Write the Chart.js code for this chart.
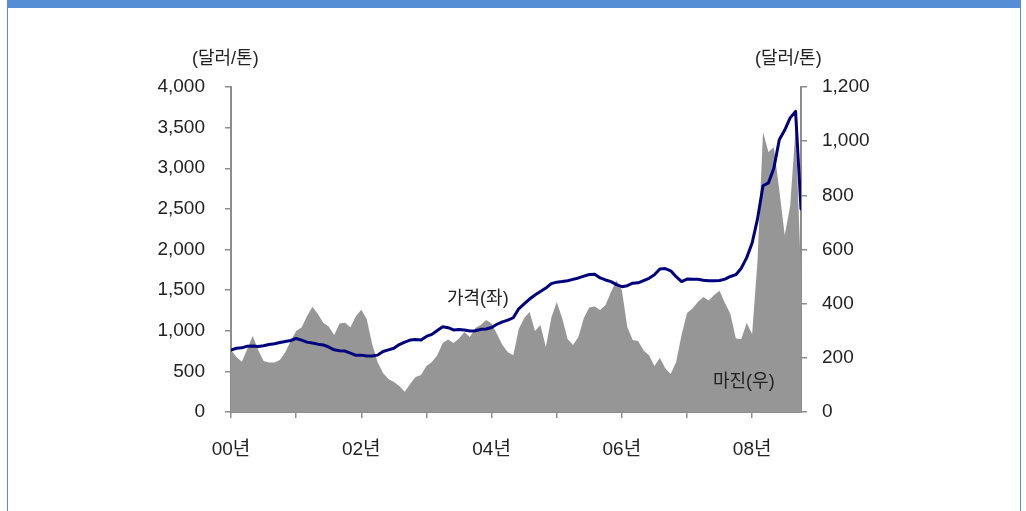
<!DOCTYPE html>
<html>
<head>
<meta charset="utf-8">
<script src="https://cdn.jsdelivr.net/npm/chart.js@4/dist/chart.umd.min.js"></script>
<style>
html,body{margin:0;padding:0;background:#fff;width:1026px;height:511px;overflow:hidden;}
#frame{position:absolute;left:7px;top:0;width:1014px;height:530px;border-top:8px solid #558ed5;border-left:1.5px solid #558ed5;border-right:1.5px solid #558ed5;box-sizing:border-box;}
#c{position:absolute;left:0;top:0;}
.lbl{position:absolute;font-family:'Liberation Sans','Noto Sans CJK KR',sans-serif;font-size:18px;color:#222;white-space:nowrap;line-height:1;transform:translateY(-50%);}
</style>
</head>
<body>
<div id="frame"></div>
<canvas id="c" width="1026" height="511"></canvas>
<div class="lbl" style="left:192px;top:58px;">(달러/톤)</div>
<div class="lbl" style="left:755px;top:58px;">(달러/톤)</div>
<div class="lbl" style="left:447px;top:298px;">가격(좌)</div>
<div class="lbl" style="left:713px;top:381px;">마진(우)</div>
<script>
// Monthly series, Jan 2000 .. Oct 2008
const priceValues = [763,784,790,810,812,805,815,830,840,855,868,880,
905,885,860,850,835,825,800,765,755,750,725,698,
700,690,690,700,745,765,785,830,860,885,893,886,
930,955,1004,1048,1038,1010,1015,1010,997,1000,1017,1022,
1040,1080,1110,1130,1160,1270,1330,1390,1440,1482,1525,1580,
1598,1605,1615,1632,1650,1672,1692,1695,1650,1625,1605,1568,
1542,1555,1585,1590,1618,1645,1690,1760,1765,1738,1665,1605,
1636,1633,1633,1622,1616,1614,1618,1636,1668,1690,1770,1900,
2080,2380,2785,2820,3000,3350,3470,3620,3700,2500];
const marginValues = [229,203,186,233,281,229,188,183,183,192,221,262,
299,312,354,389,362,330,316,284,327,330,313,354,
378,343,251,185,144,122,111,96,75,103,129,137,
170,185,210,255,268,255,271,295,277,310,321,340,
327,288,247,221,210,306,347,369,299,321,240,347,
406,347,270,247,277,347,386,390,377,395,443,486,
450,314,266,262,227,210,170,199,162,140,185,284,
366,382,406,425,412,432,448,402,362,271,270,329,
288,561,1034,960,978,820,653,760,1048,506];
const xTickMonths = [0,12,24,36,48,60,72,84,96];
const yearTickLabels = ['00년','02년','04년','06년','08년'];
const leftTicks = [0,500,1000,1500,2000,2500,3000,3500,4000];
const rightTicks = [0,200,400,600,800,1000,1200];

const tickFont = {family:"'Liberation Sans','Noto Sans CJK KR',sans-serif", size:19};
const axisGray = '#8c8c8c';

new Chart(document.getElementById('c'), {
  type:'line',
  data:{
    datasets:[
      {label:'가격(좌)', data:priceValues.map((v,i)=>({x:i,y:v})), yAxisID:'y',
       borderColor:'#00007f', borderWidth:3, pointRadius:0, fill:false, tension:0,
       borderJoinStyle:'round', borderCapStyle:'round'},
      {label:'마진(우)', data:marginValues.map((v,i)=>({x:i,y:v})), yAxisID:'y1',
       backgroundColor:'#969696', borderColor:'#969696', borderWidth:0, pointRadius:0, fill:'origin', tension:0}
    ]
  },
  options:{
    responsive:false, animation:false, devicePixelRatio:1,
    layout:{padding:{top:87,left:0,right:0,bottom:0}},
    plugins:{legend:{display:false}, tooltip:{enabled:false}},
    scales:{
      x:{type:'linear', min:0, max:priceValues.length-1,
        afterBuildTicks:s=>{ s.ticks = xTickMonths.map(v=>({value:v})); },
        afterFit:s=>{ s.height = 99; },
        ticks:{autoSkip:false, maxRotation:0, padding:20, color:'#222', font:tickFont,
          callback:v=> (v%24===0 ? (yearTickLabels[v/24] ?? '') : '')},
        grid:{drawOnChartArea:false, tickLength:6, color:axisGray, lineWidth:1.5},
        border:{color:axisGray, width:2}
      },
      y:{position:'left', min:0, max:4000,
        afterBuildTicks:s=>{ s.ticks = leftTicks.map(v=>({value:v})); },
        afterFit:s=>{ s.width = 231; },
        ticks:{padding:20, color:'#222', font:tickFont, callback:v=>v.toLocaleString('en-US')},
        grid:{drawOnChartArea:false, tickLength:6, color:axisGray, lineWidth:1.5},
        border:{color:axisGray, width:2}
      },
      y1:{position:'right', min:0, max:1200,
        afterBuildTicks:s=>{ s.ticks = rightTicks.map(v=>({value:v})); },
        afterFit:s=>{ s.width = 225; },
        ticks:{padding:15, color:'#222', font:tickFont, callback:v=>v.toLocaleString('en-US')},
        grid:{drawOnChartArea:false, tickLength:6, color:axisGray, lineWidth:1.5},
        border:{color:axisGray, width:2}
      }
    }
  }
});
</script>
</body>
</html>
